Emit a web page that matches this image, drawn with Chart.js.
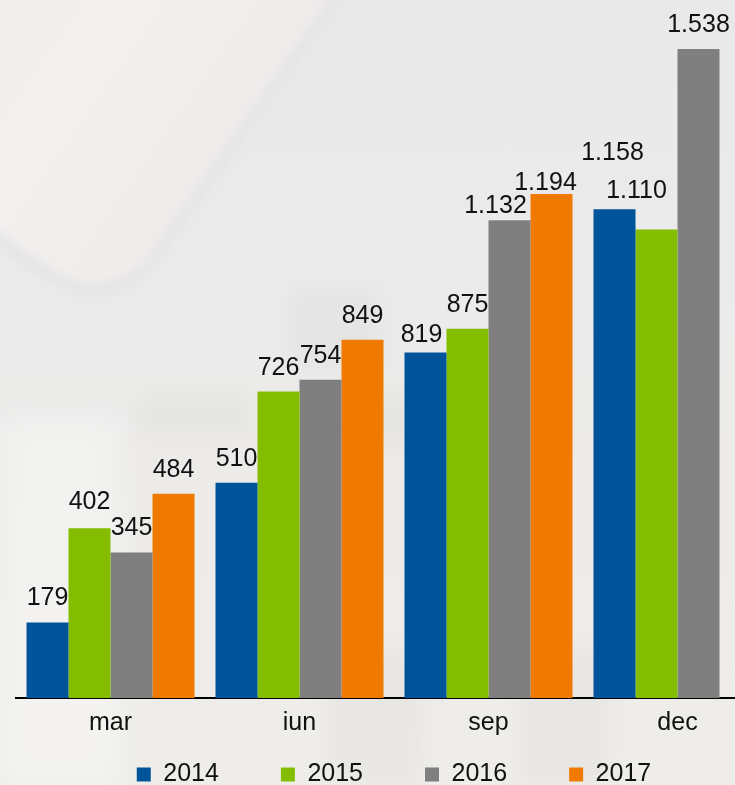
<!DOCTYPE html>
<html>
<head>
<meta charset="utf-8">
<script src="https://cdn.jsdelivr.net/npm/chart.js@4.4.1/dist/chart.umd.min.js"></script>
<style>
  html, body {
    margin: 0;
    padding: 0;
    width: 735px;
    height: 785px;
    overflow: hidden;
  }
  body {
    position: relative;
    background: linear-gradient(to bottom, #e9e9ea 0%, #ebebeb 40%, #ecebe9 55%, #eeede9 100%);
    font-family: "Liberation Sans", Arial, sans-serif;
  }
  /* фон: размытый палец в левом верхнем углу */
  .finger {
    position: absolute;
    left: -389px;
    top: -488px;
    width: 500px;
    height: 800px;
    border-radius: 70px;
    background: linear-gradient(to right, #f0eded 0%, #f2f0ef 70%, #eeebea 100%);
    transform-origin: 100% 100%;
    transform: rotate(35deg);
    filter: blur(4px);
    box-shadow: 4px 6px 14px rgba(120, 110, 105, 0.08);
  }
  .blob {
    position: absolute;
    background: rgba(0, 0, 0, 0.025);
    filter: blur(10px);
  }
  .light {
    position: absolute;
    background: rgba(255, 255, 255, 0.35);
    filter: blur(14px);
  }
  #wrap {
    position: absolute;
    left: 0;
    top: 0;
    width: 772px;
    height: 845px;
  }
</style>
</head>
<body>
<div class="finger"></div>
<div class="light" style="left:0;top:420px;width:120px;height:365px;"></div>
<div class="blob" style="left:140px;top:395px;width:110px;height:40px;"></div>
<div class="blob" style="left:300px;top:395px;width:120px;height:50px;"></div>
<div class="blob" style="left:290px;top:290px;width:90px;height:80px;"></div>
<div class="blob" style="left:330px;top:650px;width:90px;height:135px;"></div>
<div class="blob" style="left:520px;top:650px;width:90px;height:135px;"></div>
<div id="wrap"><canvas id="chart" width="772" height="845"></canvas></div>
<script>
// Данные
const categories = ['mar', 'iun', 'sep', 'dec'];
const years = ['2014', '2015', '2016', '2017'];
const values2014 = [179, 510, 819, 1158];
const values2015 = [402, 726, 875, 1110];
const values2016 = [345, 754, 1132, 1538];
const values2017 = [484, 849, 1194, null];

const colors = ['#00559a', '#84bd00', '#7f7f7f', '#f07a00'];

// Формат чисел: 1.158
function fmt(v) {
    if (v >= 1000) {
        return Math.floor(v / 1000) + '.' + String(v % 1000).padStart(3, '0');
    }
    return String(v);
}

// Сдвиги подписей (dx, dy) там, где в оригинале они стоят не по центру
const labelNudge = {
    '0-2': [-4, 7],
    '2-2': [-14, 10],
    '3-2': [-6, 13],
    '0-3': [-2, -32],
    '1-3': [-20, -15],
    '1-0': [0, -2]
};

const valueLabels = {
    id: 'valueLabels',
    afterDatasetsDraw(chart) {
        const ctx = chart.ctx;
        ctx.save();
        ctx.font = '25px "Liberation Sans", Arial, sans-serif';
        ctx.fillStyle = '#111';
        ctx.textAlign = 'center';
        ctx.textBaseline = 'alphabetic';
        chart.data.datasets.forEach((ds, di) => {
            const meta = chart.getDatasetMeta(di);
            meta.data.forEach((bar, i) => {
                const v = ds.data[i];
                if (v == null) return;
                const n = labelNudge[di + '-' + i] || [0, 0];
                ctx.fillText(fmt(v), bar.x + n[0], bar.y - 17 + n[1]);
            });
        });
        ctx.restore();
    }
};

// Легенда ближе к оси (большой padding нужен только для ширины)
const legendLift = {
    id: 'legendLift',
    afterLayout(chart) {
        const lg = chart.legend;
        if (!lg) return;
        const h = lg.bottom - lg.top;
        lg.top = 700;
        lg.bottom = 700 + h;
    }
};

const seriesValues = [values2014, values2015, values2016, values2017];

new Chart(document.getElementById('chart'), {
    type: 'bar',
    data: {
        labels: categories,
        datasets: years.map((y, i) => ({
            label: y,
            data: seriesValues[i],
            backgroundColor: colors[i],
            borderWidth: 0,
            categoryPercentage: 168 / 189,
            barPercentage: 1
        }))
    },
    options: {
        responsive: false,
        animation: false,
        layout: { padding: { left: 16, right: 0, top: 0, bottom: 0 } },
        scales: {
            x: {
                grid: { display: false, drawTicks: false },
                border: { display: true, color: '#000', width: 2 },
                ticks: {
                    color: '#111',
                    font: { size: 25, family: '"Liberation Sans", Arial, sans-serif' },
                    padding: 10
                }
            },
            y: {
                display: false,
                min: 0,
                max: 1654
            }
        },
        plugins: {
            legend: {
                position: 'bottom',
                labels: {
                    color: '#111',
                    font: { size: 25, family: '"Liberation Sans", Arial, sans-serif' },
                    boxWidth: 14,
                    boxHeight: 14,
                    padding: 62
                }
            },
            tooltip: { enabled: false }
        }
    },
    plugins: [valueLabels, legendLift]
});
</script>
</body>
</html>
